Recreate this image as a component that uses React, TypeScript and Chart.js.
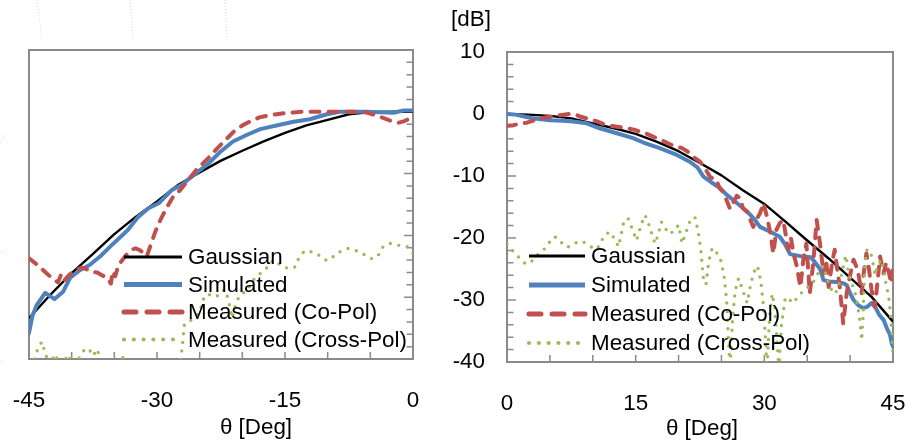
import { useEffect, useRef } from 'react';
import { Chart, registerables } from 'chart.js';

Chart.register(...registerables);

// ---- Left half (-45 .. 0 deg) ----
const gaussLeftDeg = [-45, -42.5, -40, -37.5, -35, -32.5, -30, -27.5, -25, -22.5, -20, -17.5, -15, -12.5, -10, -7.5, -5, -2.5, 0];
const gaussLeftDb = [-33.4, -29.6, -26.1, -23.0, -19.8, -17.0, -14.5, -11.8, -9.8, -7.9, -6.3, -4.8, -3.4, -2.2, -1.3, -0.4, -0.05, 0, 0];

const simLeftDeg = [-45, -44.6, -44.1, -43.1, -42.0, -41.0, -40.2, -39.0, -37.9, -36.5, -35.1, -33.4, -32.2, -31.0, -29.8, -28.3, -27.1, -25.5, -24.0, -22.6, -21.1, -19.5, -17.9, -15.6, -14.0, -12.1, -10.1, -8.6, -5.4, -2.3, -1.1, 0];
const simLeftDb = [-35.8, -33.0, -31.3, -29.3, -30.3, -29.1, -26.9, -25.6, -24.8, -23.2, -21.3, -19.1, -17.0, -15.6, -14.8, -12.7, -11.8, -10.0, -8.4, -6.5, -4.8, -3.75, -2.8, -2.1, -1.6, -1.2, -0.4, 0, 0, -0.15, 0.2, 0.2];

const coLeftDeg = [-45, -44, -43.2, -42.4, -41.6, -41.2, -40.8, -40.3, -39.6, -38.8, -38.2, -37.7, -37.0, -36.5, -35.8, -35.4, -35.2, -34.9, -34.5, -33.75, -33.0, -32.5, -32.0, -31.5, -31.2, -30.8, -30.2, -29.6, -28.9, -28.1, -27.3, -26.5, -25.4, -24.0, -23.0, -22.0, -21.0, -20.0, -19.0, -18.0, -17.0, -16.0, -15.0, -14.0, -13.0, -10.0, -7.0, -5.5, -4.5, -3.5, -2.5, -1.8, -1.0, 0];
const coLeftDb = [-23.7, -24.8, -25.8, -26.8, -27.6, -26.2, -27.2, -26.4, -25.6, -25.2, -25.5, -25.9, -26.0, -26.4, -26.9, -27.8, -25.8, -26.6, -24.8, -23.4, -22.3, -22.1, -22.4, -22.9, -23.4, -21.8, -19.4, -17.5, -15.6, -13.7, -12.7, -11.3, -9.4, -7.5, -6.0, -4.6, -3.2, -2.2, -1.5, -0.9, -0.6, -0.4, -0.2, -0.1, 0, 0, 0, -0.1, -0.5, -1.0, -1.5, -1.8, -1.5, -0.8];

const crossLeftDeg = [-45, -44.5, -44, -43.5, -43, -42.5, -42, -41.5, -41, -40.5, -40, -39.5, -39, -38.5, -38, -37.5, -37, -36.5, -36, -35, -34.5, -34, -33.5, -32, -31, -30, -29, -28, -27.2, -27, -26.8, -26.5, -26, -25.5, -25, -24.5, -24, -23.5, -23, -22.5, -22, -21.6, -21.2, -20.7, -20.1, -19.5, -18.7, -17.7, -17, -16.4, -15.5, -14.6, -13.8, -13.4, -12.7, -11.7, -10.9, -10.1, -9.3, -8.5, -7.6, -6.6, -5.6, -4.8, -4.1, -3.5, -2.7, -1.7, -0.7, 0];
const crossLeftDb = [-41, -40.5, -38.5, -37.2, -39.5, -41, -39.2, -40.5, -41, -39.3, -40.5, -41, -39.5, -38.5, -38.3, -39.5, -38.4, -41, -42, -41, -40, -39.8, -41, -42, -42, -41, -40.5, -41, -40, -37.5, -34.5, -34, -33.7, -33, -32.5, -30, -29.5, -29.8, -29.9, -29, -28.8, -30.6, -33.4, -30.7, -29.4, -29.1, -27.2, -25.9, -25.1, -24, -24.8, -25.4, -25.1, -23.7, -22.5, -22.7, -23.3, -24.1, -23.4, -22.6, -22.1, -22.5, -23.2, -23.8, -23.3, -21.8, -21.3, -21.6, -21.8, -22.9];

// ---- Right half (0 .. 45 deg) ----
const gaussRightDeg = [0, 2.5, 5, 7.5, 10, 12.5, 15, 17.5, 20, 22.5, 25, 27.5, 30, 32.5, 35, 37.5, 40, 42.5, 45];
const gaussRightDb = [0, -0.1, -0.3, -0.7, -1.5, -2.3, -3.2, -4.5, -6.0, -7.9, -9.9, -12.3, -14.5, -17.4, -20.4, -23.3, -26.4, -29.5, -33.5];

const simRightDeg = [0, 1.0, 2.0, 3.0, 4.0, 5.0, 6.5, 7.7, 9.3, 10.8, 12.8, 14.7, 15.9, 17.8, 19.8, 21.3, 22.2, 22.9, 23.8, 24.8, 25.6, 26.4, 27.9, 28.8, 29.5, 30.7, 31.8, 32.4, 33.0, 34.5, 35.4, 35.9, 36.5, 36.9, 37.5, 38.4, 39.2, 39.6, 40.0, 40.4, 41.0, 41.5, 42.0, 42.5, 43.0, 43.4, 43.9, 44.3, 44.65, 44.85, 45.0];
const simRightDb = [0.0, -0.1, -0.4, -0.7, -0.85, -1.0, -1.1, -1.2, -1.5, -2.3, -3.1, -3.9, -4.6, -5.5, -6.6, -7.7, -8.6, -10.1, -11.0, -11.9, -13.0, -13.9, -15.6, -16.9, -18.2, -19.0, -19.8, -21.0, -22.6, -23.0, -23.1, -23.9, -25.0, -26.8, -27.0, -27.1, -27.3, -27.6, -28.9, -30.0, -30.9, -31.3, -31.1, -30.5, -31.3, -32.4, -33.2, -34.6, -35.6, -37.0, -37.5];

const coRightDeg = [0, 0.7, 1.5, 2.3, 3.0, 3.85, 4.8, 5.8, 6.6, 7.3, 8.0, 8.5, 9.5, 10.5, 11.2, 12.0, 13.0, 14.0, 15.0, 15.5, 16.3, 17.1, 18.0, 19.0, 20.4, 21.0, 21.7, 22.5,
  23.0, 23.7, 24.4, 24.8, 25.2, 25.6, 26.0, 26.4, 26.8, 27.2, 27.5, 28.0, 28.3, 28.7, 29.1, 29.5, 29.9, 30.3, 30.7, 31.05, 31.4, 31.8, 32.2, 32.5, 32.8, 33.1, 33.4, 33.8, 34.2, 34.55, 34.9, 35.3, 35.7, 36.1, 36.5, 36.9, 37.2, 37.5, 37.9, 38.2, 38.5, 38.8, 39.2, 39.6, 40.0, 40.4, 40.7, 40.95, 41.35, 41.6, 41.9, 42.2, 42.5, 42.9, 43.2, 43.5, 43.9, 44.2, 44.5, 44.8, 45.0];
const coRightDb = [-1.9, -1.8, -1.6, -1.4, -1.1, -0.7, -0.5, -0.3, -0.1, 0.0, -0.1, -0.4, -0.8, -1.2, -1.6, -1.9, -2.1, -2.3, -2.6, -2.85, -3.2, -3.7, -4.2, -4.9, -5.5, -6.0, -6.9, -7.7,
  -8.6, -10.2, -10.6, -12.0, -12.6, -13.9, -15.3, -14.2, -13.2, -13.6, -15.2, -15.8, -16.8, -18.2, -17.0, -16.0, -14.4, -16.5, -19.2, -22.5, -18.7, -17.6, -17.1, -19.5, -21.8, -20.0, -22.5, -24.6, -27.9, -23.5, -20.9, -28.9, -24.1, -17.1, -21.0, -25.7, -23.5, -27.9, -24.0, -21.9, -25.0, -27.9, -33.8, -28.9, -26.0, -23.5, -24.5, -25.7, -28.9, -25.5, -22.5, -25.0, -28.4, -31.1, -27.0, -23.0, -25.7, -24.0, -25.5, -27.3, -24.6];

const crossRightDeg = [0, 0.5, 1.0, 1.5, 2.0, 2.5, 3.0, 3.5, 4.0, 4.5, 5.0, 5.5, 6.0, 6.5, 7.0, 7.5, 8.0, 8.5, 9.0, 9.5, 10.0, 10.5, 11.0, 11.4, 12.0, 12.6, 13.0, 13.3, 13.6, 14.1, 14.5, 15.1, 15.4, 15.7, 16.1, 16.7, 17.0, 17.3, 17.7, 18.0, 18.4, 18.8, 19.4, 20.0, 20.4, 20.9, 21.3, 21.9, 22.3, 22.6, 22.9, 23.2, 23.5, 23.8, 24.1, 24.5, 24.9, 25.3, 25.6, 25.8, 26.0, 26.3, 26.6, 27.0, 27.5, 28.0, 28.4, 28.8, 29.2, 29.6, 29.9, 30.1, 30.3, 30.6, 30.9, 31.2, 31.5, 31.7, 32.0, 32.4, 32.8, 33.2, 33.6, 34.0, 34.5, 35.0, 35.5, 36.0, 36.5, 36.9, 37.3, 37.7, 38.1, 38.5, 38.9, 39.2, 39.5, 39.8, 40.2, 40.6, 40.9, 41.15, 41.35, 41.5, 41.7, 41.9, 42.3, 42.6, 42.9, 43.2, 43.6, 43.9, 44.2, 44.5, 44.75, 45.0];
const crossRightDb = [-21.0, -21.8, -22.6, -23.3, -24.0, -24.2, -23.6, -22.8, -22.2, -21.6, -20.6, -19.8, -20.1, -21.0, -21.5, -21.2, -20.8, -20.5, -20.7, -21.1, -21.6, -21.8, -20.5, -19.5, -19.0, -20.3, -21.4, -19.5, -17.4, -16.8, -18.2, -20.4, -19.0, -17.6, -16.3, -18.4, -20.0, -20.9, -19.0, -17.4, -18.2, -19.3, -19.0, -17.9, -20.9, -19.0, -17.4, -16.6, -19.0, -22.0, -26.5, -27.5, -24.0, -22.0, -21.6, -22.5, -23.5, -26.0, -30.0, -36.0, -41.0, -33.0, -28.5, -26.5, -28.5, -30.5, -27.5, -25.5, -24.5, -27.0, -31.0, -35.5, -41.0, -33.0, -29.0, -31.0, -37.0, -41.0, -34.0, -30.0, -29.5, -30.5, -30.0, -29.5, -28.5, -28.0, -27.5, -26.5, -25.0, -24.5, -26.5, -28.0, -29.0, -28.5, -26.5, -24.6, -22.8, -25.5, -27.3, -29.0, -31.0, -33.5, -36.5, -33.0, -25.0, -22.0, -21.9, -23.5, -26.0, -24.5, -23.5, -25.0, -27.5, -29.5, -33.0, -39.0];

const seriesLabels = ['Gaussian', 'Simulated', 'Measured (Co-Pol)', 'Measured (Cross-Pol)'];
const angleTickLabels = [-45, -30, -15, 0, 15, 30, 45];
const levelTickLabels = [10, 0, -10, -20, -30, -40];

const FONT = "'Liberation Sans', Arial, sans-serif";
const TEXT_SIZE = 22.4;
const FRAME_GREY = '#8a8a8a';

const pairUp = (xs: number[], ys: number[]) =>
  xs.slice(0, Math.min(xs.length, ys.length)).map((x, i) => ({ x, y: ys[i] }));

function buildDatasets(
  gauss: [number[], number[]],
  sim: [number[], number[]],
  co: [number[], number[]],
  cross: [number[], number[]]
) {
  return [
    {
      label: seriesLabels[0], data: pairUp(...gauss), order: 4,
      borderColor: '#000000', borderWidth: 2.4, borderJoinStyle: 'round',
      legendWidth: 3.2,
    },
    {
      label: seriesLabels[1], data: pairUp(...sim), order: 3,
      borderColor: '#4F81BD', borderWidth: 4, borderJoinStyle: 'round', borderCapStyle: 'round',
      legendWidth: 5,
    },
    {
      label: seriesLabels[2], data: pairUp(...co), order: 2,
      borderColor: '#C0504D', borderWidth: 4, borderDash: [9, 9], borderCapStyle: 'round', borderJoinStyle: 'round',
      legendWidth: 5, legendDash: [12, 11],
    },
    {
      label: seriesLabels[3], data: pairUp(...cross), order: 1,
      borderColor: '#9BBB59', borderWidth: 3.4, borderDash: [0, 8.6], borderCapStyle: 'round', borderJoinStyle: 'round',
      legendWidth: 4.2, legendDash: [0, 9.8],
    },
  ];
}

// Plot-area border with inward-pointing tick marks taken from the scales.
const plotFrame = {
  id: 'plotFrame',
  beforeDatasetsDraw(chart: any, _args: any, opts: any) {
    const { ctx, chartArea, scales } = chart;
    const { left, right, top, bottom } = chartArea;
    const xs = scales.x;
    const ys = scales.y;
    ctx.save();
    ctx.strokeStyle = FRAME_GREY;
    ctx.lineWidth = 1.5;
    ctx.beginPath();
    for (const t of xs.ticks) {
      const px = xs.getPixelForValue(t.value);
      ctx.moveTo(px, bottom);
      ctx.lineTo(px, bottom - 7);
    }
    const edge = opts.ySide === 'right' ? right : left;
    const dir = opts.ySide === 'right' ? -1 : 1;
    for (const t of ys.ticks) {
      const py = ys.getPixelForValue(t.value);
      const len = Math.abs(t.value % 10) < 1e-6 ? 9 : 6.5;
      ctx.moveTo(edge, py);
      ctx.lineTo(edge + dir * len, py);
    }
    ctx.stroke();
    ctx.lineWidth = 2;
    ctx.strokeRect(left, top, right - left, bottom - top);
    ctx.restore();
  },
};

// Legend drawn inside the plot area, without a background box.
const innerLegend = {
  id: 'innerLegend',
  afterDatasetsDraw(chart: any, _args: any, opts: any) {
    const { ctx } = chart;
    ctx.save();
    ctx.font = `${TEXT_SIZE}px ${FONT}`;
    ctx.fillStyle = '#000';
    ctx.textBaseline = 'middle';
    ctx.textAlign = 'left';
    chart.data.datasets.forEach((ds: any, i: number) => {
      const y = opts.rows[i];
      ctx.beginPath();
      ctx.strokeStyle = ds.borderColor;
      ctx.lineWidth = ds.legendWidth;
      ctx.lineCap = ds.legendDash ? 'round' : 'butt';
      ctx.setLineDash(ds.legendDash || []);
      ctx.moveTo(opts.x0, y);
      ctx.lineTo(opts.x1, y);
      ctx.stroke();
      ctx.setLineDash([]);
      ctx.fillText(ds.label, opts.textX, y + 1);
    });
    ctx.restore();
  },
};

// Free-standing captions (axis names).
const captions = {
  id: 'captions',
  afterDraw(chart: any, _args: any, opts: any) {
    const { ctx } = chart;
    ctx.save();
    ctx.font = `${TEXT_SIZE}px ${FONT}`;
    ctx.fillStyle = '#000';
    ctx.textAlign = 'center';
    ctx.textBaseline = 'middle';
    for (const c of opts.items) ctx.fillText(c.text, c.x, c.y);
    ctx.restore();
  },
};

// Faint dotted remnants of a polar grid along the upper-left edge.
const polarRemnants = {
  id: 'polarRemnants',
  beforeDraw(chart: any) {
    const { ctx } = chart;
    const segs = [
      [37, 0, 42, 38], [130, 0, 133, 38], [225, 0, 227, 38],
      [0, 143, 7, 133], [0, 253, 7, 248], [0, 363, 7, 358],
    ];
    ctx.save();
    ctx.strokeStyle = '#d4d4d4';
    ctx.lineWidth = 1;
    ctx.setLineDash([1, 2]);
    for (const [a, b, c, d] of segs) {
      ctx.beginPath();
      ctx.moveTo(a, b);
      ctx.lineTo(c, d);
      ctx.stroke();
    }
    ctx.restore();
  },
};

function angleLabel(v: number) {
  return angleTickLabels.includes(v) ? String(v) : '';
}
function levelLabel(v: number) {
  return levelTickLabels.includes(v) ? String(v) : '';
}

function makeConfig(side: 'left' | 'right'): any {
  const isLeft = side === 'left';
  const datasets = isLeft
    ? buildDatasets([gaussLeftDeg, gaussLeftDb], [simLeftDeg, simLeftDb], [coLeftDeg, coLeftDb], [crossLeftDeg, crossLeftDb])
    : buildDatasets([gaussRightDeg, gaussRightDb], [simRightDeg, simRightDb], [coRightDeg, coRightDb], [crossRightDeg, crossRightDb]);

  return {
    type: 'line',
    data: { datasets },
    plugins: isLeft ? [polarRemnants, plotFrame, innerLegend, captions] : [plotFrame, innerLegend, captions],
    options: {
      responsive: false,
      animation: false,
      events: [],
      layout: {
        autoPadding: false,
        padding: isLeft ? { left: 29, top: 50, right: 0, bottom: 0 } : { left: 0, top: 52, right: 18, bottom: 0 },
      },
      elements: { point: { radius: 0 }, line: { tension: 0 } },
      scales: {
        x: {
          type: 'linear',
          min: isLeft ? -45 : 0,
          max: isLeft ? 0 : 45,
          // the tick-mark length (not drawn) sets the gap between the frame and the labels
          grid: { display: false, drawTicks: true, tickLength: 28 },
          border: { display: false },
          ticks: {
            stepSize: 5, autoSkip: false, maxRotation: 0, padding: 0,
            color: '#000', font: { family: FONT, size: TEXT_SIZE },
            callback: (v: number) => angleLabel(v),
          },
          afterFit: (s: any) => { s.height = isLeft ? 84 : 81; },
        },
        y: {
          type: 'linear',
          position: isLeft ? 'right' : 'left',
          min: -40,
          max: 10,
          grid: { display: false, drawTicks: true, tickLength: 22 },
          border: { display: false },
          ticks: {
            display: !isLeft,
            stepSize: 2, autoSkip: false, padding: 0,
            color: '#000', font: { family: FONT, size: TEXT_SIZE },
            callback: (v: number) => levelLabel(v),
          },
          afterFit: (s: any) => { s.width = isLeft ? 57 : 67; },
        },
      },
      plugins: {
        legend: { display: false },
        tooltip: { enabled: false },
        plotFrame: { ySide: isLeft ? 'right' : 'left' },
        innerLegend: isLeft
          ? { x0: 124, x1: 182, textX: 188, rows: [257, 284.5, 312, 339.5] }
          : { x0: 89, x1: 145, textX: 151, rows: [256, 285, 314, 343] },
        captions: {
          items: isLeft
            ? [{ text: 'θ [Deg]', x: 256, y: 428 }]
            : [{ text: 'θ [Deg]', x: 262, y: 429 }, { text: '[dB]', x: 31, y: 20 }],
        },
      },
    },
  };
}

function PatternPanel({ side, left, width }: { side: 'left' | 'right'; left: number; width: number }) {
  const ref = useRef<HTMLCanvasElement | null>(null);
  useEffect(() => {
    if (!ref.current) return;
    const chart = new Chart(ref.current, makeConfig(side));
    return () => chart.destroy();
  }, [side]);
  return (
    <canvas
      ref={ref}
      width={width}
      height={443}
      style={{ position: 'absolute', left, top: 0, width, height: 443 }}
    />
  );
}

export default function App() {
  return (
    <div style={{ position: 'absolute', left: 0, top: 0, width: 911, height: 443, background: '#ffffff', overflow: 'hidden' }}>
      <PatternPanel side="left" left={0} width={470} />
      <PatternPanel side="right" left={440} width={471} />
    </div>
  );
}
